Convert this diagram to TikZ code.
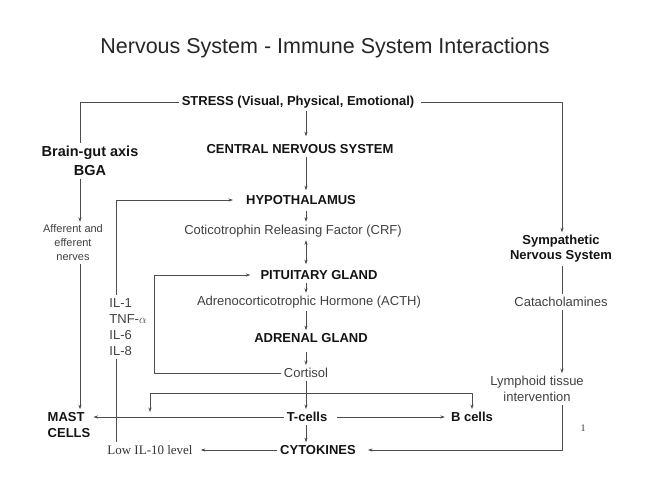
\documentclass[tikz,border=0pt]{standalone}
\usepackage{fontspec}
\setmainfont{Liberation Sans}
\newfontfamily\timesfont{Liberation Serif}
\usetikzlibrary{arrows.meta}

\begin{document}
\begin{tikzpicture}[x=1pt,y=-1pt,>={Stealth[length=4.5pt,width=3.2pt]},line join=round,
  wire/.style={draw=black!70,line width=0.6pt},
  txt/.style={inner sep=3pt,text=black!75,font=\fontsize{13}{16}\selectfont},
  hd/.style={inner sep=3pt,text=black!92,font=\fontsize{13}{16}\selectfont\bfseries},
  serifnote/.style={inner sep=3pt,text=black!80,font=\fontsize{13}{16}\selectfont\timesfont}]
  \useasboundingbox (0,0) rectangle (650,488);
  % title
  \node[text=black!85,font=\fontsize{21.5}{24}\selectfont] (ttl) at (325,48) {Nervous System - Immune System Interactions};
  % central column
  \node[hd] (stress) at (298,102) {STRESS (Visual, Physical, Emotional)};
  \node[hd] (cns) at (300,149) {CENTRAL NERVOUS SYSTEM};
  \node[hd] (hyp) at (301,200) {HYPOTHALAMUS};
  \node[txt] (crf) at (293,231) {Coticotrophin Releasing Factor (CRF)};
  \node[hd] (pit) at (319,275) {PITUITARY GLAND};
  \node[txt] (acth) at (309,302) {Adrenocorticotrophic Hormone (ACTH)};
  \node[hd] (adr) at (311,338) {ADRENAL GLAND};
  \node[txt] (cort) at (306,373) {Cortisol};
  \node[hd] (tcell) at (307,417) {T-cells};
  \node[hd] (bcell) at (472,417) {B cells};
  \node[hd] (cyto) at (318,450) {CYTOKINES};
  % left side
  \node[hd,font=\fontsize{14.5}{19}\selectfont\bfseries,align=center] (bga) at (90,161) {Brain-gut axis\\BGA};
  \node[txt,font=\fontsize{11}{14}\selectfont,align=center] (aff) at (73,243) {Afferent and\\efferent\\nerves};
  \node[hd,align=left] (mast) at (69,425) {MAST\\CELLS};
  \node[txt,align=left] (il) at (128,327) {IL-1\\TNF-$\alpha$\\IL-6\\IL-8};
  \node[serifnote] (low) at (150,450) {Low IL-10 level};
  % right side
  \node[hd,align=center,font=\fontsize{13}{15}\selectfont\bfseries] (sns) at (561,249) {Sympathetic\\Nervous System};
  \node[txt] (cat) at (561,302) {Catacholamines};
  \node[txt,align=center] (lym) at (537,389) {Lymphoid tissue\\intervention};
  \node[serifnote,font=\fontsize{10}{12}\selectfont\timesfont] (pg) at (583,428) {1};
  % helper columns
  \coordinate (ax) at (306,0);
  \coordinate (bx) at (80,0);
  \coordinate (ix) at (116,0);
  \coordinate (lx) at (154,0);
  \coordinate (rx) at (562,0);
  \coordinate (br) at (306,393);
  \coordinate (mk) at (150,412);
  % connectors
  \draw[wire,->,shorten >=5pt] (stress.south -| ax) -- (cns.north -| ax);
  \draw[wire,->,shorten >=2pt] (cns.south -| ax) -- (hyp.north -| ax);
  \draw[wire,->,shorten <=3pt] (hyp.south -| ax) -- (crf.north -| ax);
  \draw[wire,<->,shorten >=3pt] (crf.south -| ax) -- (pit.north -| ax);
  \draw[wire,->] (pit.south -| ax) -- (acth.north -| ax);
  \draw[wire,->] (acth.south -| ax) -- (adr.north -| ax);
  \draw[wire,->,shorten <=6pt] (adr.south -| ax) -- (cort.north -| ax);
  \draw[wire,->] (cort.south -| ax) -- (tcell.north -| ax);
  \draw[wire,->] (tcell.south -| ax) -- (cyto.north -| ax);
  \draw[wire,->] (br) -| (mk);
  \draw[wire,->] (br) -| (bcell.north);
  \draw[wire,->,shorten <=7pt,shorten >=3pt] (tcell.east) -- (bcell.west);
  \draw[wire,->] (tcell.west) -- (tcell.west -| mast.east);
  \draw[wire,->,shorten >=5pt] (cyto.west) -- (low.east);
  \draw[wire,->,shorten >=7pt] (cort.west) -- (cort.west -| lx) |- (pit.west);
  \draw[wire,->,shorten >=10pt] (ix |- il.north) |- (hyp.west);
  \draw[wire] (ix |- il.south) -- (ix |- low.north);
  \draw[wire] (stress.west) -| (bx |- bga.north);
  \draw[wire,->] (bx |- bga.south) -- (bx |- aff.north);
  \draw[wire,->] (bx |- aff.south) -- (bx |- mast.north);
  \draw[wire,->,shorten <=4pt] (stress.east) -| (rx |- sns.north);
  \draw[wire] (rx |- sns.south) -- (rx |- cat.north);
  \draw[wire,->] (rx |- cat.south) -- (rx |- lym.north);
  \draw[wire,->,shorten >=9pt] (rx |- lym.south) |- (cyto.east);
\end{tikzpicture}
\end{document}
